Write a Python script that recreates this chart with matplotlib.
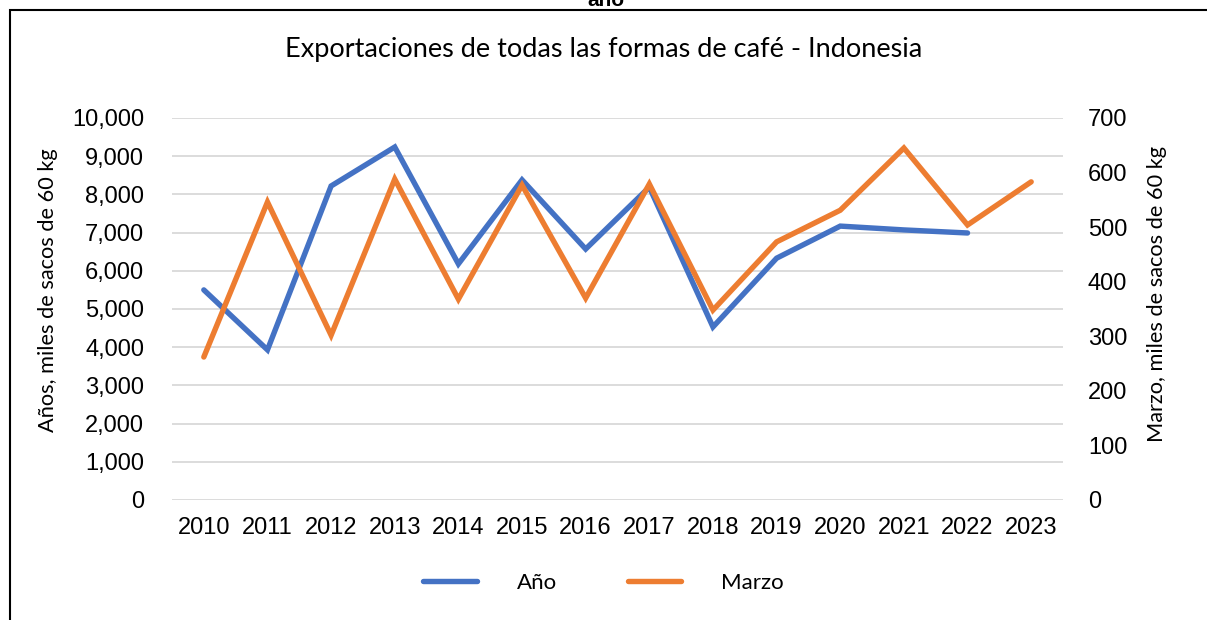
import matplotlib
matplotlib.use("Agg")
import matplotlib.pyplot as plt
from matplotlib.patches import Rectangle
from matplotlib.lines import Line2D

years = [str(y) for y in range(2010, 2024)]
anio = [5500, 3930, 8220, 9240, 6180, 8380, 6570, 8190, 4530, 6330, 7170, 7070, 6990, None]
marzo = [262, 546, 302, 588, 368, 577, 370, 579, 348, 473, 531, 645, 504, 583]
left_ticks = list(range(0, 10001, 1000))
right_ticks = list(range(0, 701, 100))

BLUE = "#4472C4"
ORANGE = "#ED7D31"

fig = plt.figure(figsize=(12.07, 6.2), dpi=100)
fig.patch.set_facecolor("white")

# border frame
fig.patches.append(Rectangle((10/1207, -0.1), 1.2, (620-10)/620 + 0.1, transform=fig.transFigure,
                             fill=False, edgecolor="black", linewidth=1.5))
fig.text(0.502, 1.0, "año", ha="center", va="center", fontsize=15, fontweight="bold",
         family="Liberation Sans")

ax = fig.add_axes([172/1207, 1-500/620, (1063-172)/1207, (500-118)/620])
ax2 = ax.twinx()

x = list(range(len(years)))
xa = [i for i, v in zip(x, anio) if v is not None]
ya = [v for v in anio if v is not None]
ax.plot(xa, ya, color=BLUE, lw=3.9, solid_capstyle="round", solid_joinstyle="miter", zorder=3)
ax2.plot(x, marzo, color=ORANGE, lw=3.9, solid_capstyle="round", solid_joinstyle="miter", zorder=3)

ax.set_xlim(-0.5, len(years) - 0.5)
ax.set_ylim(0, 10000)
ax2.set_ylim(0, 700)
ax.set_yticks(left_ticks)
ax.set_yticklabels([f"{v:,}" for v in left_ticks])
ax2.set_yticks(right_ticks)
ax2.set_yticklabels([str(v) for v in right_ticks])
ax.set_xticks(x)
ax.set_xticklabels(years)

for a in (ax, ax2):
    for s in a.spines.values():
        s.set_visible(False)
    a.tick_params(length=0, labelsize=17, labelcolor="black")
    for lab in a.get_xticklabels() + a.get_yticklabels():
        lab.set_family("Liberation Sans")
ax.tick_params(axis="x", pad=12)
ax.tick_params(axis="y", pad=20)
ax2.tick_params(axis="y", pad=18)
ax.grid(axis="y", color="#D9D9D9", lw=1.3, zorder=0)
ax.set_axisbelow(True)

ax.set_ylabel("Años, miles de sacos de 60 kg", family="Lato", fontsize=15.7, labelpad=10)
ax2.set_ylabel("Marzo, miles de sacos de 60 kg", family="Lato", fontsize=15.7, labelpad=14)
ax.yaxis.label.set_y(0.548)
ax2.yaxis.label.set_y(0.54)

fig.text(0.5, 1-50/620, "Exportaciones de todas las formas de café - Indonesia",
         ha="center", va="center", fontsize=19.5, family="Lato")

handles = [Line2D([], [], color=BLUE, lw=3.9, solid_capstyle="round"),
           Line2D([], [], color=ORANGE, lw=3.9, solid_capstyle="round")]
fig.legend(handles, ["Año", "Marzo"], loc="center", bbox_to_anchor=(0.5, 1-583/620),
           ncol=2, frameon=False, prop={"family": "Lato", "size": 16},
           handlelength=2.4, handletextpad=1.8, columnspacing=3.2)

fig.savefig("out.png", dpi=100, facecolor="white")
